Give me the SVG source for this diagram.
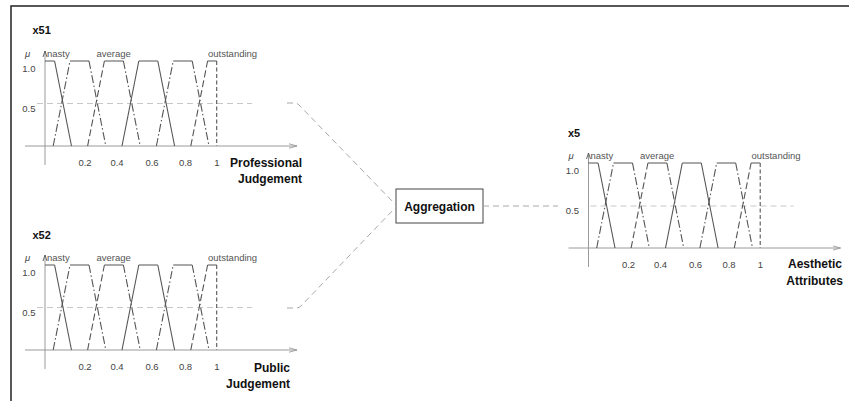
<svg xmlns="http://www.w3.org/2000/svg" width="849" height="401" viewBox="0 0 849 401">
<style>
.frame{stroke:#222;stroke-width:1.5;fill:none}
.axis{stroke:#9a9a9a;stroke-width:1;fill:none}
.mf{stroke:#555;stroke-width:1.1;fill:none}
.dashdot{stroke-dasharray:8 2.5 1.5 2.5}
.dash{stroke-dasharray:7 3}
.vdash{stroke-dasharray:4 2.5}
.half{stroke:#c8c8c8;stroke-width:1;stroke-dasharray:6 4;fill:none}
.link{stroke:#a8a8a8;stroke-width:1;stroke-dasharray:6 4;fill:none}
text{font-family:"Liberation Sans",Arial,sans-serif}
.term{font-size:9.5px;fill:#555}
.tick{font-size:9.5px;fill:#444;text-anchor:middle}
.lvl{font-size:9.5px;fill:#444;text-anchor:end}
.mu{font-size:9.5px;font-style:italic;fill:#444}
.var{font-size:11px;font-weight:bold;fill:#111}
.title{font-size:12px;font-weight:bold;fill:#111;text-anchor:end}
.box{fill:#fff;stroke:#444;stroke-width:1}
.boxlabel{font-size:12px;font-weight:bold;fill:#111;text-anchor:middle}
</style>
<defs>
<marker id="tip" viewBox="0 0 8 6" refX="8" refY="3" markerWidth="8" markerHeight="6" markerUnits="userSpaceOnUse" orient="auto">
<path d="M0,0.8 L8,3 L0,5.2" fill="none" stroke="#9a9a9a" stroke-width="0.9"/>
</marker>
<marker id="ytip" viewBox="0 0 6 6" refX="6" refY="3" markerWidth="6" markerHeight="6" markerUnits="userSpaceOnUse" orient="auto">
<path d="M0,1 L6,3 L0,5" fill="none" stroke="#555" stroke-width="0.9"/>
</marker>
<!-- membership-function plot: origin (45,146), full membership at y=61 -->
<g id="plot">
<line class="axis" x1="25" y1="146" x2="297" y2="146" marker-end="url(#tip)"/>
<line class="axis" x1="45" y1="165" x2="45" y2="51" marker-end="url(#ytip)"/>
<!-- plateaus -->
<path class="mf" d="M45,61 H54.6 M70,61 H89 M104.4,61 H123.4 M138.8,61 H157.8 M173.2,61 H192.2 M207.6,61 H216.7"/>
<!-- slopes -->
<path class="mf" d="M54.6,61 L71.5,146"/>
<path class="mf dashdot" d="M53.2,146 L70,61 M89,61 L105.8,146"/>
<path class="mf dash" d="M87.6,146 L104.4,61"/>
<path class="mf dashdot" d="M123.4,61 L140.2,146"/>
<path class="mf" d="M122,146 L138.8,61 M157.8,61 L174.6,146"/>
<path class="mf dashdot" d="M156.4,146 L173.2,61 M192.2,61 L209,146"/>
<path class="mf dash" d="M190.8,146 L207.6,61"/>
<path class="mf vdash" d="M216.7,61 V146"/>
<text class="mu" x="25" y="57">μ</text>
<text class="lvl" x="35.5" y="71.5">1.0</text>
<text class="lvl" x="35.5" y="112">0.5</text>
<text class="term" x="47" y="57">nasty</text>
<text class="term" x="96.5" y="57">average</text>
<text class="term" x="208" y="57">outstanding</text>
<text class="tick" x="85" y="165.5">0.2</text>
<text class="tick" x="117" y="165.5">0.4</text>
<text class="tick" x="152" y="165.5">0.6</text>
<text class="tick" x="185.5" y="165.5">0.8</text>
<text class="tick" x="217" y="165.5">1</text>
</g>
</defs>

<!-- page frame -->
<path class="frame" d="M11,401 V6 H849"/>

<g id="x51">
<text class="var" x="32.5" y="34">x51</text>
<line class="half" x1="37" y1="103.5" x2="252" y2="103.5"/>
<use href="#plot"/>
<text class="title" x="302" y="166.5">Professional</text>
<text class="title" x="302" y="182.5">Judgement</text>
</g>

<g id="x52">
<text class="var" x="32.5" y="239">x52</text>
<g transform="translate(0,204)">
<line class="half" x1="37" y1="103.5" x2="252" y2="103.5"/>
<use href="#plot"/>
</g>
<text class="title" x="290" y="372">Public</text>
<text class="title" x="290" y="387.5">Judgement</text>
</g>

<g id="aggregation">
<rect class="box" x="396" y="189" width="87" height="34"/>
<text class="boxlabel" x="439.5" y="211">Aggregation</text>
</g>

<g id="x5">
<text class="var" x="568" y="136.5">x5</text>
<g transform="translate(543.5,102)">
<line class="half" x1="47" y1="104" x2="250" y2="104"/>
<use href="#plot"/>
</g>
<text class="title" x="842" y="268">Aesthetic</text>
<text class="title" x="843" y="284.5">Attributes</text>
</g>

<g id="connectors">
<path class="link" d="M287,103 H294 Q297,103 299,105 L395,204"/>
<path class="link" d="M287,308 H296 Q299,308 301,306 L395,208"/>
<path class="link" d="M483,206 H558"/>
</g>
</svg>
